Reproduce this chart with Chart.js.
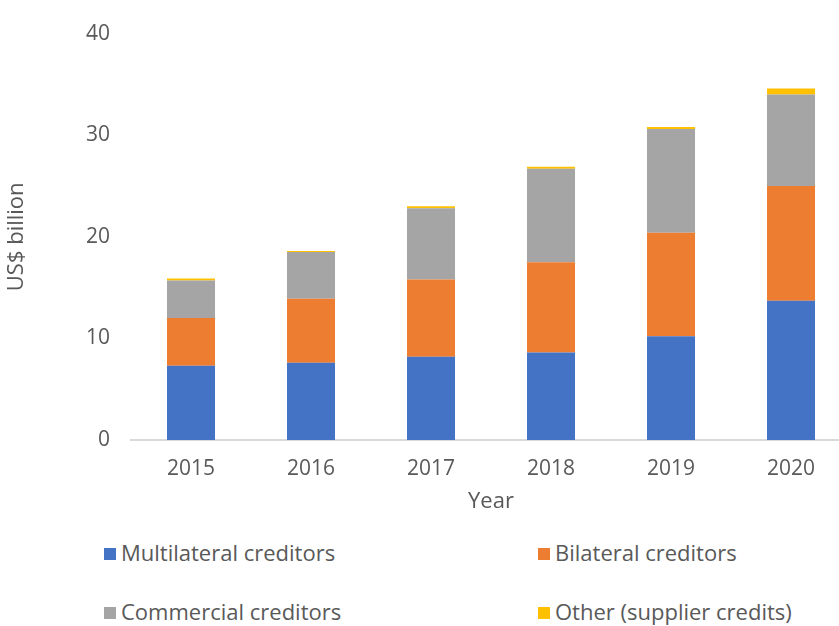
<!DOCTYPE html>
<html>
<head>
<meta charset="utf-8">
<script src="https://cdn.jsdelivr.net/npm/chart.js@4"></script>
<style>
  html, body { margin: 0; padding: 0; background: #fff; overflow: hidden; width: 839px; height: 626px; }
  #wrap { position: absolute; left: 0; top: 0; width: 860px; height: 520px; }
  .legend { position: absolute; font-family: "Open Sans", sans-serif; font-size: 22px; color: #595959; white-space: nowrap; line-height: 26px; }
  .legend span.box { display: inline-block; width: 12px; height: 12px; margin-right: 5px; vertical-align: 1px; }
</style>
</head>
<body>
<div id="wrap"><canvas id="chart" width="860" height="520"></canvas></div>
<div id="legendWrap"></div>
<script>
const years = ['2015', '2016', '2017', '2018', '2019', '2020'];
const multilateral = [7.3, 7.6, 8.2, 8.6, 10.2, 13.7];
const bilateral = [4.7, 6.3, 7.6, 8.9, 10.2, 11.3];
const commercial = [3.7, 4.6, 7.0, 9.2, 10.2, 9.0];
const other = [0.2, 0.1, 0.2, 0.2, 0.2, 0.6];
const yTicks = [0, 10, 20, 30, 40];

const seriesNames = ['Multilateral creditors', 'Bilateral creditors', 'Commercial creditors', 'Other (supplier credits)'];
const colores = ['#4472C4', '#ED7D31', '#A5A5A5', '#FFC000'];
const textColor = '#595959';
const fontFamily = '"Open Sans", sans-serif';

// leyenda en 2 columnas, como el original
const legendPos = [[104, 539], [538, 539], [104, 598], [538, 598]];
document.getElementById('legendWrap').innerHTML = seriesNames.map((n, i) =>
  `<div class="legend" style="left:${legendPos[i][0]}px;top:${legendPos[i][1]}px"><span class="box" style="background:${colores[i]}"></span>${n}</div>`
).join('');

new Chart(document.getElementById('chart'), {
  type: 'bar',
  data: {
    labels: years,
    datasets: [multilateral, bilateral, commercial, other].map((d, i) => ({
      label: seriesNames[i], data: d, backgroundColor: colores[i],
      categoryPercentage: 1, barPercentage: 0.4, borderWidth: 0
    }))
  },
  options: {
    responsive: false,
    animation: false,
    layout: { padding: { top: 30, right: 9, left: 0, bottom: 0 } },
    plugins: { legend: { display: false }, tooltip: { enabled: false } },
    scales: {
      x: {
        stacked: true,
        grid: { display: false, drawTicks: false },
        border: { display: true, color: '#d9d9d9', width: 2 },
        ticks: { color: textColor, font: { family: fontFamily, size: 21 }, padding: 16 },
        title: { display: true, text: 'Year', color: textColor, font: { family: fontFamily, size: 22 }, padding: { top: 0, bottom: 5 } },
        afterFit: s => { s.height = 80; }
      },
      y: {
        stacked: true,
        min: 0, max: 40,
        afterBuildTicks: s => { s.ticks = yTicks.map(v => ({ value: v })); },
        grid: { display: false, drawTicks: false },
        border: { display: false },
        ticks: { color: textColor, font: { family: fontFamily, size: 21 }, padding: 21 },
        title: { display: true, text: 'US$ billion', color: textColor, font: { family: fontFamily, size: 22 }, padding: { top: 4, bottom: 0 } },
        afterFit: s => { s.width = 131; }
      }
    }
  }
});
</script>
</body>
</html>
